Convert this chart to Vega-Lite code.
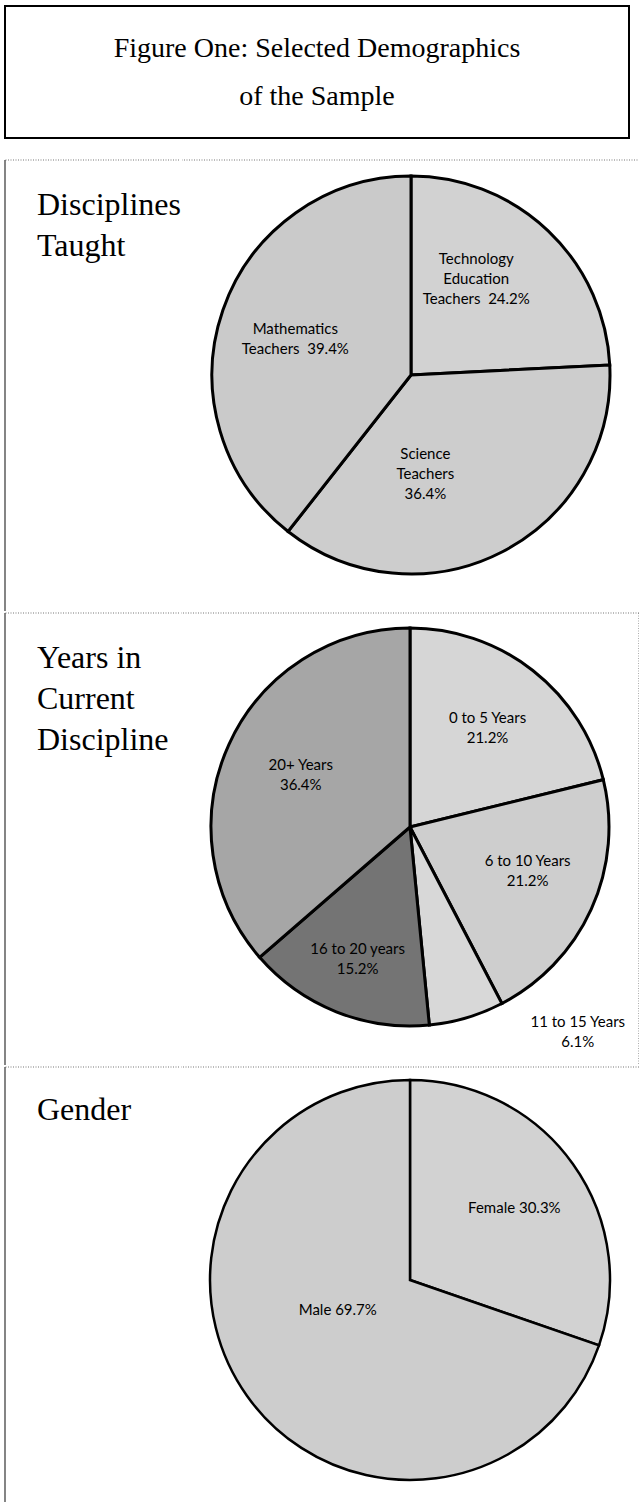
{
  "$schema": "https://vega.github.io/schema/vega-lite/v6.json",
  "background": "white",
  "padding": {"left": 4, "top": 5, "right": 0, "bottom": 0},
  "config": {
    "view": {"stroke": null},
    "concat": {"spacing": 0},
    "text": {"font": "Lato", "fontSize": 15, "lineHeight": 20, "lineBreak": "\n", "color": "#000000"}
  },
  "datasets": {
    "title": [
      {"ln": 1, "t": "Figure One: Selected Demographics"},
      {"ln": 2, "t": "of the Sample"}
    ],
    "head1": [{"ln": 1, "t": "Disciplines"}, {"ln": 2, "t": "Taught"}],
    "head2": [{"ln": 1, "t": "Years in"}, {"ln": 2, "t": "Current"}, {"ln": 3, "t": "Discipline"}],
    "head3": [{"ln": 1, "t": "Gender"}],
    "disc": [
      {"rank": 1, "group": "Technology Education Teachers", "pct": 24.2, "label": "Technology\nEducation\nTeachers\u00a0 24.2%"},
      {"rank": 2, "group": "Science Teachers", "pct": 36.4, "label": "Science\nTeachers\n36.4%"},
      {"rank": 3, "group": "Mathematics Teachers", "pct": 39.4, "label": "Mathematics\nTeachers\u00a0 39.4%"}
    ],
    "years": [
      {"rank": 1, "group": "0 to 5 Years", "pct": 21.2, "label": "0 to 5 Years\n21.2%"},
      {"rank": 2, "group": "6 to 10 Years", "pct": 21.2, "label": "6 to 10 Years\n21.2%"},
      {"rank": 3, "group": "11 to 15 Years", "pct": 6.1, "label": "11 to 15 Years\n6.1%"},
      {"rank": 4, "group": "16 to 20 years", "pct": 15.2, "label": "16 to 20 years\n15.2%"},
      {"rank": 5, "group": "20+ Years", "pct": 36.4, "label": "20+ Years\n36.4%"}
    ],
    "gender": [
      {"rank": 1, "group": "Female", "pct": 30.3, "label": "Female 30.3%"},
      {"rank": 2, "group": "Male", "pct": 69.7, "label": "Male 69.7%"}
    ]
  },
  "spacing": 20,
  "resolve": {"scale": {"color": "independent", "theta": "independent"}},
  "vconcat": [
    {
      "width": 624,
      "height": 132,
      "view": {"stroke": "black", "strokeWidth": 2},
      "data": {"name": "title"},
      "mark": {"type": "text", "font": "Liberation Serif", "fontSize": 28, "baseline": "alphabetic", "color": "black"},
      "encoding": {
        "y": {"field": "ln", "type": "ordinal", "axis": null, "scale": {"type": "point", "range": [51, 99], "padding": 0}},
        "text": {"field": "t"}
      }
    },
    {
      "spacing": 0,
      "resolve": {"scale": {"color": "independent", "theta": "independent"}},
      "vconcat": [
        {
          "spacing": 0,
          "hconcat": [
            {
              "width": 174,
              "height": 451,
              "layer": [
                {
                  "data": {"name": "head1"},
                  "mark": {"type": "text", "font": "Liberation Serif", "fontSize": 32, "align": "left", "baseline": "alphabetic", "x": 32, "color": "black"},
                  "encoding": {
                    "y": {"field": "ln", "type": "ordinal", "axis": null, "scale": {"type": "point", "range": [55, 96], "padding": 0}},
                    "text": {"field": "t"}
                  }
                },
                {
                  "data": {"values": [{}]},
                  "mark": {"type": "rule", "color": "#777", "strokeWidth": 1.2, "strokeDash": [1, 1.5]},
                  "encoding": {"y": {"value": 0}}
                },
                {
                  "data": {"values": [{}]},
                  "mark": {"type": "rule", "color": "#333", "strokeWidth": 1.2},
                  "encoding": {"x": {"value": 0}}
                }
              ]
            },
            {
              "width": 458,
              "height": 430,
              "data": {"name": "disc"},
              "encoding": {
                "theta": {"field": "pct", "type": "quantitative", "stack": true},
                "order": {"field": "rank", "type": "quantitative"}
              },
              "layer": [
                {
                  "mark": {"type": "arc", "outerRadius": 199, "stroke": "black", "strokeWidth": 3},
                  "encoding": {
                    "color": {"field": "group", "type": "nominal", "legend": null,
                      "scale": {"domain": ["Technology Education Teachers", "Science Teachers", "Mathematics Teachers"], "range": ["#d2d2d2", "#cdcdcd", "#cacaca"]}}
                  }
                },
                {
                  "mark": {"type": "text", "radius": 115, "dx": -14, "dy": -33},
                  "encoding": {"text": {"condition": {"test": "datum.group === 'Technology Education Teachers'", "field": "label"}, "value": ""}}
                },
                {
                  "mark": {"type": "text", "radius": 103, "dx": -33, "dy": -12},
                  "encoding": {"text": {"condition": {"test": "datum.group === 'Science Teachers'", "field": "label"}, "value": ""}}
                },
                {
                  "mark": {"type": "text", "radius": 115, "dx": -7, "dy": -8},
                  "encoding": {"text": {"condition": {"test": "datum.group === 'Mathematics Teachers'", "field": "label"}, "value": ""}}
                },
                {
                  "data": {"values": [{}]},
                  "mark": {"type": "rule", "color": "#777", "strokeWidth": 1.2, "strokeDash": [1, 1.5]},
                  "encoding": {"y": {"value": 0}}
                },
                {
                  "data": {"values": [{}]},
                  "mark": {"type": "rule", "color": "#777", "strokeWidth": 1.2, "strokeDash": [1, 1.5]},
                  "encoding": {"x": {"value": 458}, "y": {"value": 0}, "y2": {"value": 451}}
                }
              ]
            }
          ]
        },
        {
          "spacing": 0,
          "hconcat": [
            {
              "width": 174,
              "height": 452,
              "layer": [
                {
                  "data": {"name": "head2"},
                  "mark": {"type": "text", "font": "Liberation Serif", "fontSize": 32, "align": "left", "baseline": "alphabetic", "x": 32, "color": "black"},
                  "encoding": {
                    "y": {"field": "ln", "type": "ordinal", "axis": null, "scale": {"type": "point", "range": [55, 137], "padding": 0}},
                    "text": {"field": "t"}
                  }
                },
                {
                  "data": {"values": [{}]},
                  "mark": {"type": "rule", "color": "#777", "strokeWidth": 1.2, "strokeDash": [1, 1.5]},
                  "encoding": {"y": {"value": 0}}
                },
                {
                  "data": {"values": [{}]},
                  "mark": {"type": "rule", "color": "#333", "strokeWidth": 1.2},
                  "encoding": {"x": {"value": 0}}
                }
              ]
            },
            {
              "width": 458,
              "height": 428,
              "data": {"name": "years"},
              "encoding": {
                "theta": {"field": "pct", "type": "quantitative", "stack": true},
                "order": {"field": "rank", "type": "quantitative"}
              },
              "layer": [
                {
                  "mark": {"type": "arc", "outerRadius": 199, "stroke": "black", "strokeWidth": 3},
                  "encoding": {
                    "color": {"field": "group", "type": "nominal", "legend": null,
                      "scale": {"domain": ["0 to 5 Years", "6 to 10 Years", "11 to 15 Years", "16 to 20 years", "20+ Years"], "range": ["#d6d6d6", "#cecece", "#d8d8d8", "#747474", "#a6a6a6"]}}
                  }
                },
                {
                  "mark": {"type": "text", "radius": 124, "dx": 1, "dy": -11},
                  "encoding": {"text": {"condition": {"test": "datum.group === '0 to 5 Years'", "field": "label"}, "value": ""}}
                },
                {
                  "mark": {"type": "text", "radius": 128, "dx": 1, "dy": -19},
                  "encoding": {"text": {"condition": {"test": "datum.group === '6 to 10 Years'", "field": "label"}, "value": ""}}
                },
                {
                  "mark": {"type": "text", "radius": 217, "dx": 106, "dy": -13},
                  "encoding": {"text": {"condition": {"test": "datum.group === '11 to 15 Years'", "field": "label"}, "value": ""}}
                },
                {
                  "mark": {"type": "text", "radius": 144, "dx": 1, "dy": -12},
                  "encoding": {"text": {"condition": {"test": "datum.group === '16 to 20 years'", "field": "label"}, "value": ""}}
                },
                {
                  "mark": {"type": "text", "radius": 119, "dx": -1, "dy": -13},
                  "encoding": {"text": {"condition": {"test": "datum.group === '20+ Years'", "field": "label"}, "value": ""}}
                },
                {
                  "data": {"values": [{}]},
                  "mark": {"type": "rule", "color": "#777", "strokeWidth": 1.2, "strokeDash": [1, 1.5]},
                  "encoding": {"y": {"value": 0}}
                },
                {
                  "data": {"values": [{}]},
                  "mark": {"type": "rule", "color": "#777", "strokeWidth": 1.2, "strokeDash": [1, 1.5]},
                  "encoding": {"x": {"value": 458}, "y": {"value": 0}, "y2": {"value": 452}}
                }
              ]
            }
          ]
        },
        {
          "spacing": 0,
          "hconcat": [
            {
              "width": 174,
              "height": 442,
              "layer": [
                {
                  "data": {"name": "head3"},
                  "mark": {"type": "text", "font": "Liberation Serif", "fontSize": 32, "align": "left", "baseline": "alphabetic", "x": 32, "color": "black"},
                  "encoding": {
                    "y": {"field": "ln", "type": "ordinal", "axis": null, "scale": {"type": "point", "range": [53, 53], "padding": 0}},
                    "text": {"field": "t"}
                  }
                },
                {
                  "data": {"values": [{}]},
                  "mark": {"type": "rule", "color": "#777", "strokeWidth": 1.2, "strokeDash": [1, 1.5]},
                  "encoding": {"y": {"value": 0}}
                },
                {
                  "data": {"values": [{}]},
                  "mark": {"type": "rule", "color": "#333", "strokeWidth": 1.2},
                  "encoding": {"x": {"value": 0}}
                }
              ]
            },
            {
              "width": 458,
              "height": 426,
              "data": {"name": "gender"},
              "encoding": {
                "theta": {"field": "pct", "type": "quantitative", "stack": true},
                "order": {"field": "rank", "type": "quantitative"}
              },
              "layer": [
                {
                  "mark": {"type": "arc", "outerRadius": 200, "stroke": "black", "strokeWidth": 2.5},
                  "encoding": {
                    "color": {"field": "group", "type": "nominal", "legend": null,
                      "scale": {"domain": ["Female", "Male"], "range": ["#d2d2d2", "#cdcdcd"]}}
                  }
                },
                {
                  "mark": {"type": "text", "radius": 122, "dx": 5, "dy": -1},
                  "encoding": {"text": {"condition": {"test": "datum.group === 'Female'", "field": "label"}, "value": ""}}
                },
                {
                  "mark": {"type": "text", "radius": 85, "dx": -3, "dy": -19},
                  "encoding": {"text": {"condition": {"test": "datum.group === 'Male'", "field": "label"}, "value": ""}}
                },
                {
                  "data": {"values": [{}]},
                  "mark": {"type": "rule", "color": "#777", "strokeWidth": 1.2, "strokeDash": [1, 1.5]},
                  "encoding": {"y": {"value": 0}}
                }
              ]
            }
          ]
        }
      ]
    }
  ]
}
